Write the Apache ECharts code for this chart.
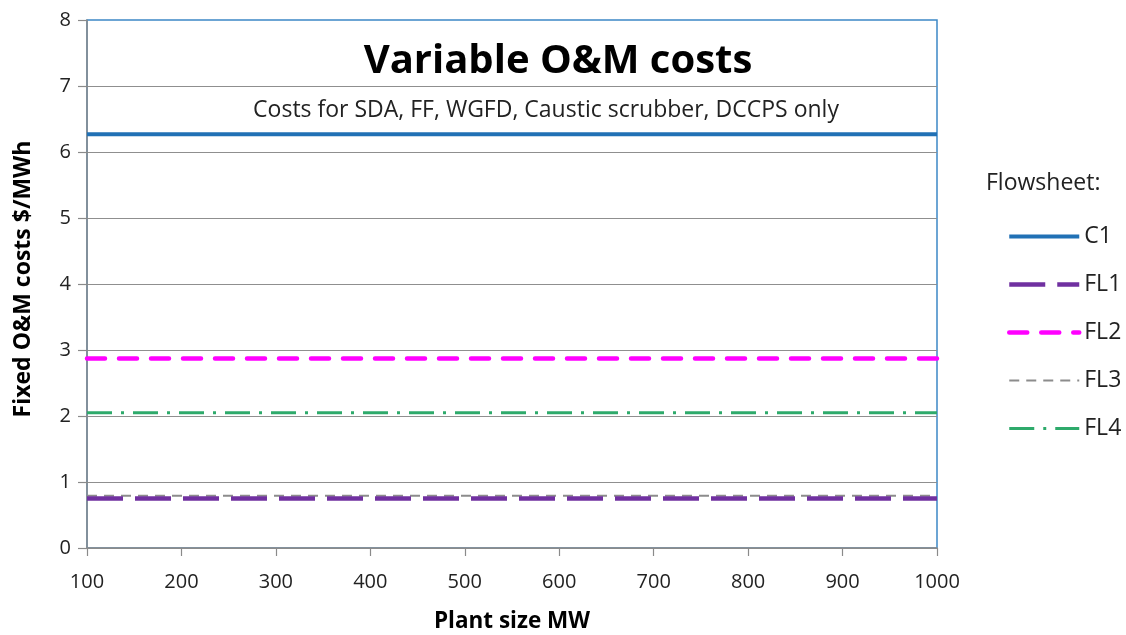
<!DOCTYPE html>
<html>
<head>
<meta charset="utf-8">
<script src="https://cdn.jsdelivr.net/npm/echarts@6/dist/echarts.min.js"></script>
<style>
  html, body { margin: 0; padding: 0; background: #fff; }
  #chart { width: 1126px; height: 635px; }
</style>
</head>
<body>
<div id="chart"></div>
<script>
// Plant sizes spanned by each flowsheet line (MW)
const plantSizes = [100, 1000];
// Variable O&M cost per flowsheet ($/MWh), flat across plant size
const seriesNames = ['C1', 'FL1', 'FL2', 'FL3', 'FL4'];
const c1Cost  = [6.27, 6.27];
const fl1Cost = [0.75, 0.75];
const fl2Cost = [2.87, 2.87];
const fl3Cost = [0.79, 0.79];
const fl4Cost = [2.05, 2.05];

const FONT = '"Open Sans", Lato, sans-serif';

function pairs(values) {
  return plantSizes.map((x, i) => [x, values[i]]);
}

const styles = {
  C1:  { color: '#2171B5', width: 4,   type: 'solid' },
  FL1: { color: '#7030A0', width: 4.5, type: [36, 12] },
  FL2: { color: '#FF00FF', width: 4.5, type: [18, 14], cap: 'round' },
  FL3: { color: '#8C8C8C', width: 2,   type: [10, 7] },
  FL4: { color: '#2EAA6B', width: 3,   type: [25, 9, 3, 9] }
};
const values = { C1: c1Cost, FL1: fl1Cost, FL2: fl2Cost, FL3: fl3Cost, FL4: fl4Cost };
// draw order: gray FL3 sits beneath FL1
const drawOrder = ['C1', 'FL3', 'FL1', 'FL2', 'FL4'];

function lineStyleOf(name) {
  const s = styles[name];
  return { color: s.color, width: s.width, type: s.type, cap: s.cap || 'butt' };
}

const chart = echarts.init(document.getElementById('chart'), null, { renderer: 'canvas' });

chart.setOption({
  animation: false,
  backgroundColor: '#ffffff',
  textStyle: { fontFamily: FONT },
  grid: {
    left: 87, right: 189, top: 20, bottom: 87,
    outerBoundsMode: 'none', containLabel: false,
    show: true, borderColor: '#3C88C6', borderWidth: 1.5, backgroundColor: 'transparent'
  },
  title: [
    {
      text: 'Variable O&M costs',
      left: 553, top: 37, textAlign: 'center',
      textStyle: { fontFamily: FONT, fontSize: 40, fontWeight: 'bold', color: '#000' }
    },
    {
      text: 'Costs for SDA, FF, WGFD, Caustic scrubber, DCCPS only',
      left: 541, top: 94, textAlign: 'center',
      textStyle: { fontFamily: FONT, fontSize: 23, fontWeight: 'normal', color: '#222' }
    }
  ],
  xAxis: {
    type: 'value', min: 100, max: 1000, interval: 100,
    name: 'Plant size MW', nameLocation: 'middle', nameGap: 62,
    nameTextStyle: { fontFamily: FONT, fontSize: 22.5, fontWeight: 'bold', color: '#000' },
    axisLine: { lineStyle: { color: '#8a8a8a', width: 1.5 } },
    axisTick: { show: true, inside: false, length: 8, lineStyle: { color: '#8a8a8a', width: 1.2 } },
    axisLabel: { margin: 24, fontFamily: FONT, fontSize: 20, color: '#222', formatter: v => String(v) },
    splitLine: { show: false }
  },
  yAxis: {
    type: 'value', min: 0, max: 8, interval: 1,
    name: 'Fixed O&M costs $/MWh', nameLocation: 'middle', nameGap: 52,
    nameTextStyle: { fontFamily: FONT, fontSize: 23, fontWeight: 'bold', color: '#000', padding: [0, 0, 0, 10] },
    axisLine: { show: true, lineStyle: { color: '#8a8a8a', width: 1.5 } },
    axisTick: { show: true, inside: false, length: 9, lineStyle: { color: '#8a8a8a', width: 1.2 } },
    axisLabel: { margin: 16, fontFamily: FONT, fontSize: 20, color: '#222' },
    splitLine: { show: true, showMaxLine: false, lineStyle: { color: '#8f8f8f', width: 1.2 } }
  },
  legend: {
    orient: 'vertical', left: 1007, top: 225, padding: 0,
    data: seriesNames.map(name => ({
      name: name,
      itemStyle: { opacity: 0 },
      lineStyle: lineStyleOf(name)
    })),
    itemWidth: 70, itemHeight: 14, itemGap: 25,
    textStyle: { fontFamily: FONT, fontSize: 23, color: '#222' }
  },
  graphic: [
    {
      type: 'text', left: 986, top: 172,
      style: { text: 'Flowsheet:', fontFamily: FONT, fontSize: 23, fill: '#222' }
    }
  ],
  series: drawOrder.map(name => ({
    name: name,
    type: 'line',
    data: pairs(values[name]),
    symbol: 'none',
    silent: true,
    itemStyle: { color: styles[name].color },
    lineStyle: lineStyleOf(name)
  }))
});
</script>
</body>
</html>
